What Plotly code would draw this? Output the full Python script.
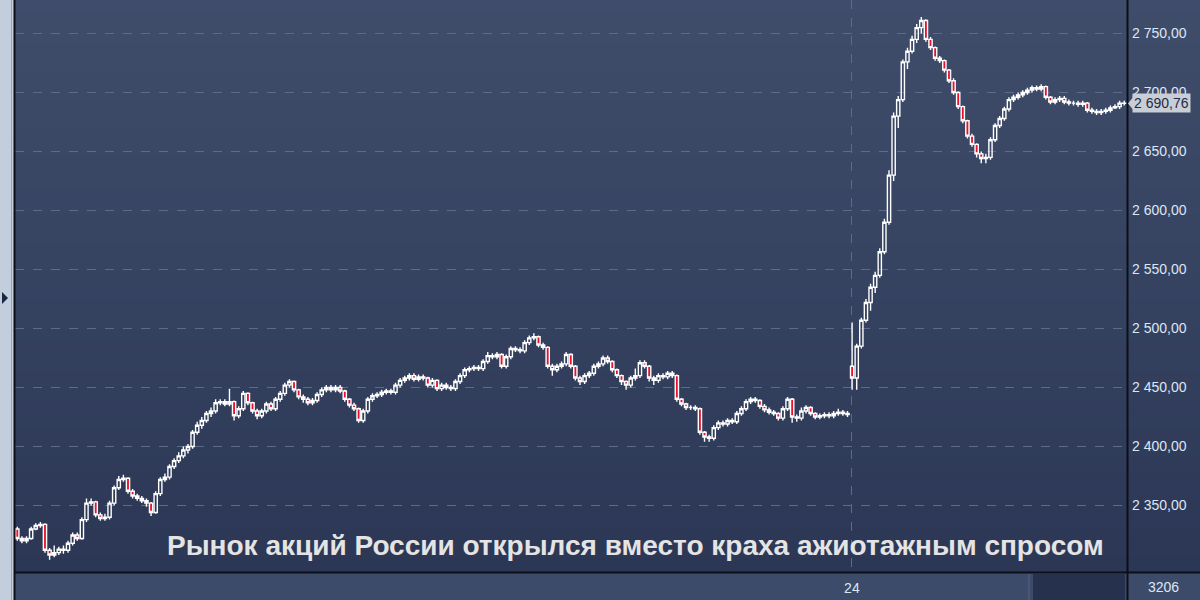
import plotly.graph_objects as go

# ---------------- data ----------------
first_open_23 = 2330
closes_23 = [2322, 2320, 2322, 2330, 2333, 2334, 2312, 2308, 2310, 2313,
             2312, 2318, 2325, 2322, 2338, 2352, 2353, 2342, 2339, 2340,
             2352, 2365, 2372, 2373, 2362, 2358, 2356, 2354, 2352, 2344,
             2360, 2372, 2374, 2383, 2388, 2392, 2397, 2400, 2412, 2418,
             2422, 2428, 2430, 2437, 2438, 2436, 2438, 2426, 2432, 2445,
             2437, 2430, 2426, 2430, 2436, 2432, 2440, 2445, 2452, 2455,
             2448, 2442, 2440, 2437, 2439, 2444, 2448, 2450, 2448, 2450,
             2447, 2440, 2435, 2432, 2422, 2430, 2440, 2443, 2444, 2446,
             2447, 2446, 2452, 2456, 2458, 2460, 2457, 2459, 2458, 2452,
             2456, 2449, 2452, 2450, 2449, 2455, 2460, 2465, 2466, 2467,
             2466, 2472, 2477, 2476, 2478, 2468, 2476, 2483, 2482, 2481,
             2488, 2492, 2493, 2486, 2484, 2468, 2465, 2468, 2470, 2478,
             2468, 2458, 2455, 2460, 2462, 2468, 2470, 2475, 2472, 2465,
             2460, 2455, 2452, 2458, 2460, 2471, 2468, 2458, 2456, 2460,
             2459, 2462, 2460, 2440, 2436, 2433, 2433, 2432, 2412, 2408,
             2407, 2416, 2420, 2419, 2422, 2421, 2428, 2432, 2438, 2440,
             2439, 2434, 2431, 2429, 2428, 2424, 2432, 2440, 2425, 2424,
             2430, 2433, 2428, 2425, 2426, 2427, 2426, 2428, 2429, 2428,
             2427]
highs_23 = [2332, 2324, 2324, 2332, 2335, 2336, 2335, 2314, 2316, 2315,
            2316, 2320, 2327, 2327, 2340, 2356, 2356, 2354, 2344, 2343,
            2354, 2367, 2375, 2376, 2374, 2364, 2360, 2358, 2356, 2353,
            2362, 2374, 2377, 2385, 2390, 2395, 2400, 2402, 2414, 2421,
            2425, 2430, 2433, 2440, 2440, 2440, 2449, 2439, 2434, 2447,
            2446, 2438, 2432, 2432, 2438, 2438, 2442, 2447, 2454, 2457,
            2456, 2449, 2444, 2442, 2441, 2446, 2450, 2452, 2452, 2452,
            2452, 2448, 2441, 2437, 2433, 2432, 2442, 2445, 2446, 2448,
            2449, 2449, 2454, 2458, 2460, 2462, 2462, 2461, 2461, 2459,
            2458, 2457, 2454, 2454, 2452, 2457, 2462, 2467, 2468, 2469,
            2469, 2474, 2480, 2479, 2480, 2479, 2478, 2485, 2485, 2484,
            2490, 2494, 2496, 2494, 2488, 2485, 2470, 2470, 2472, 2480,
            2479, 2469, 2460, 2462, 2464, 2470, 2472, 2477, 2477, 2473,
            2466, 2461, 2456, 2460, 2466, 2473, 2473, 2469, 2460, 2462,
            2462, 2464, 2464, 2461, 2441, 2437, 2435, 2435, 2433, 2413,
            2410, 2418, 2422, 2422, 2424, 2424, 2430, 2434, 2440, 2442,
            2442, 2440, 2436, 2433, 2431, 2429, 2434, 2442, 2441, 2427,
            2433, 2435, 2434, 2429, 2428, 2429, 2429, 2430, 2432, 2431,
            2430]
lows_23 = [2320, 2318, 2318, 2321, 2329, 2331, 2310, 2304, 2306, 2308,
           2309, 2310, 2316, 2320, 2321, 2336, 2350, 2340, 2337, 2337,
           2338, 2350, 2363, 2370, 2360, 2356, 2354, 2352, 2349, 2341,
           2343, 2358, 2370, 2372, 2381, 2386, 2390, 2394, 2398, 2410,
           2415, 2420, 2425, 2428, 2435, 2434, 2434, 2422, 2424, 2430,
           2435, 2428, 2423, 2424, 2428, 2430, 2430, 2438, 2443, 2450,
           2446, 2440, 2437, 2435, 2435, 2437, 2442, 2446, 2446, 2446,
           2445, 2438, 2433, 2430, 2420, 2420, 2428, 2438, 2441, 2442,
           2444, 2444, 2444, 2450, 2454, 2456, 2455, 2455, 2456, 2450,
           2450, 2447, 2447, 2448, 2447, 2447, 2453, 2458, 2463, 2464,
           2464, 2464, 2470, 2474, 2474, 2466, 2466, 2474, 2480, 2479,
           2479, 2486, 2490, 2484, 2482, 2466, 2460, 2463, 2466, 2468,
           2466, 2456, 2452, 2453, 2458, 2460, 2466, 2468, 2470, 2463,
           2458, 2452, 2448, 2450, 2456, 2458, 2466, 2455, 2452, 2454,
           2457, 2457, 2458, 2438, 2434, 2431, 2431, 2430, 2410, 2404,
           2404, 2405, 2414, 2417, 2417, 2419, 2419, 2426, 2430, 2436,
           2437, 2432, 2429, 2427, 2426, 2422, 2422, 2430, 2420, 2421,
           2422, 2428, 2426, 2423, 2423, 2424, 2424, 2424, 2426, 2426,
           2425]

first_open_24 = 2468
closes_24 = [2458, 2485, 2507, 2522, 2535, 2545, 2565, 2590, 2630, 2680,
             2694, 2726, 2735, 2745, 2755, 2761, 2745, 2738, 2729, 2727,
             2719, 2710, 2700, 2688, 2676, 2663, 2656, 2648, 2644, 2645,
             2660, 2672, 2678, 2686, 2694, 2696, 2698, 2700, 2702, 2704,
             2703, 2705, 2696, 2692, 2694, 2695, 2692, 2691, 2691, 2690,
             2691, 2685, 2684, 2683, 2684, 2685, 2687, 2688, 2691, 2690.76]
highs_24 = [2505, 2487, 2509, 2525, 2538, 2548, 2568, 2593, 2634, 2683,
            2697, 2728, 2738, 2748, 2758, 2764, 2762, 2747, 2739, 2731,
            2728, 2720, 2712, 2701, 2689, 2677, 2665, 2657, 2650, 2648,
            2662, 2674, 2680, 2688, 2696, 2698, 2700, 2702, 2704, 2706,
            2706, 2707, 2706, 2697, 2696, 2697, 2697, 2694, 2693, 2693,
            2693, 2692, 2687, 2686, 2686, 2687, 2689, 2690, 2693, 2693]
lows_24 = [2448, 2448, 2483, 2505, 2515, 2530, 2543, 2563, 2588, 2625,
           2670, 2692, 2720, 2733, 2742, 2750, 2743, 2736, 2727, 2725,
           2717, 2708, 2698, 2686, 2674, 2661, 2654, 2645, 2640, 2640,
           2643, 2658, 2670, 2676, 2684, 2692, 2694, 2696, 2698, 2700,
           2701, 2701, 2694, 2690, 2690, 2692, 2690, 2689, 2689, 2688,
           2688, 2683, 2682, 2681, 2681, 2682, 2683, 2686, 2686, 2689]

day_tick_labels = ["24"]
y_tick_values = [2350, 2400, 2450, 2500, 2550, 2600, 2650, 2700, 2750]
y_tick_labels = ["2 350,00", "2 400,00", "2 450,00", "2 500,00", "2 550,00",
                 "2 600,00", "2 650,00", "2 700,00", "2 750,00"]
last_price_label = "2 690,76"
volume_label = "3206"
title_text = "Рынок акций России открылся вместо краха ажиотажным спросом"

# ---------------- build table ----------------
closes = closes_23 + closes_24
highs = highs_23 + highs_24
lows = lows_23 + lows_24
opens = [first_open_23] + closes_23[:-1] + [first_open_24] + closes_24[:-1]
xs = list(range(len(closes)))
day24_start = len(closes_23)

# ---------------- figure ----------------
W, H = 1200, 600
L, R, T, B = 15, 73, 0, 28
pw, ph = W - L - R, H - T - B


def px(x):  # pixel x -> paper x
    return (x - L) / pw


def py(y):  # pixel y -> paper y
    return (H - B - y) / ph


fig = go.Figure()
fig.add_trace(go.Candlestick(
    x=xs, open=opens, high=highs, low=lows, close=closes,
    increasing=dict(line=dict(color="#ffffff", width=1.4), fillcolor="rgba(0,0,0,0)"),
    decreasing=dict(line=dict(color="#ffffff", width=1.4), fillcolor="#e8102c"),
    whiskerwidth=0, hoverinfo="skip", showlegend=False,
))

shapes = []
# background gradient
top = (63, 77, 107)
bot = (43, 55, 85)
n = 40
for i in range(n):
    t = i / (n - 1)
    c = tuple(int(round(bot[k] + (top[k] - bot[k]) * t)) for k in range(3))
    shapes.append(dict(type="rect", xref="paper", yref="paper", layer="below",
                       x0=px(15), x1=px(1200), y0=i / n, y1=(i + 1) / n + 0.002,
                       line=dict(width=0), fillcolor="rgb(%d,%d,%d)" % c))
# bottom strip
shapes.append(dict(type="rect", xref="paper", yref="paper", layer="below",
                   x0=px(15), x1=px(1200), y0=py(600), y1=py(573),
                   line=dict(width=0), fillcolor="#3d4b6a"))
shapes.append(dict(type="rect", xref="paper", yref="paper", layer="below",
                   x0=px(1033), x1=px(1125), y0=py(600), y1=py(574),
                   line=dict(width=0), fillcolor="#25314d"))
shapes.append(dict(type="line", xref="paper", yref="paper", layer="below",
                   x0=px(1029), x1=px(1029), y0=py(600), y1=py(574),
                   line=dict(width=1, color="#56647f")))
# left strip
shapes.append(dict(type="rect", xref="paper", yref="paper", layer="above",
                   x0=px(0), x1=px(14), y0=py(600), y1=py(0),
                   line=dict(width=0), fillcolor="#c3cedd"))
shapes.append(dict(type="line", xref="paper", yref="paper", layer="above",
                   x0=px(11.5), x1=px(11.5), y0=py(600), y1=py(0),
                   line=dict(width=1, color="#98a6bc")))
shapes.append(dict(type="line", xref="paper", yref="paper", layer="above",
                   x0=px(14.5), x1=px(14.5), y0=py(600), y1=py(0),
                   line=dict(width=2, color="#0c0f16")))
shapes.append(dict(type="path", xref="paper", yref="paper", layer="above",
                   path="M %f %f L %f %f L %f %f Z" % (px(2), py(292), px(8), py(298), px(2), py(304)),
                   line=dict(width=0), fillcolor="#1b2740"))
# frame lines
shapes.append(dict(type="line", xref="paper", yref="paper", layer="above",
                   x0=px(1127.5), x1=px(1127.5), y0=py(600), y1=py(0),
                   line=dict(width=2, color="#0c0f16")))
shapes.append(dict(type="line", xref="paper", yref="paper", layer="above",
                   x0=px(15), x1=px(1200), y0=py(572.5), y1=py(572.5),
                   line=dict(width=2, color="#0c0f16")))
# last price pointer
shapes.append(dict(type="path", xref="paper", yref="y", layer="above",
                   path="M %f 2690.76 L %f 2696 L %f 2685.5 Z" % (px(1128), px(1133), px(1133)),
                   line=dict(width=0), fillcolor="#c9ced6"))

annotations = [
    dict(text="<b>" + title_text + "</b>", xref="paper", yref="paper", x=px(1106), y=py(545),
         xanchor="right", yanchor="middle", showarrow=False,
         font=dict(family="Liberation Sans, Arial", size=28, color="#e4e4e4")),
    dict(text=last_price_label, xref="paper", yref="y", x=px(1132), y=2690.76,
         xanchor="left", yanchor="middle", showarrow=False, bgcolor="#c9ced6",
         borderpad=1, font=dict(family="Liberation Sans, Arial", size=14, color="#1c2a46")),
    dict(text=volume_label, xref="paper", yref="paper", x=px(1163), y=py(587),
         xanchor="center", yanchor="middle", showarrow=False,
         font=dict(family="Liberation Sans, Arial", size=14, color="#dce6f5")),
]

fig.update_layout(
    width=W, height=H, margin=dict(l=L, r=R, t=T, b=B),
    paper_bgcolor="#34425f", plot_bgcolor="rgba(0,0,0,0)",
    shapes=shapes, annotations=annotations, showlegend=False, boxgap=0.0,
    font=dict(family="Liberation Sans, Arial", size=14, color="#dce6f5"),
    xaxis=dict(range=[-0.5, len(closes) - 0.4], rangeslider=dict(visible=False),
               tickvals=[day24_start - 0.05], ticktext=day_tick_labels,
               showgrid=True, gridcolor="#5d6b88", griddash="dash", gridwidth=1,
               zeroline=False, showline=False, ticks="", ticklabelstandoff=6,
               tickfont=dict(size=14, color="#dce6f5")),
    yaxis=dict(side="right", range=[2293.6, 2778.4], tickvals=y_tick_values,
               ticktext=y_tick_labels, showgrid=True, gridcolor="#5d6b88",
               griddash="dash", gridwidth=1, zeroline=False, showline=False,
               ticks="", ticklabelstandoff=4, tickfont=dict(size=14, color="#dce6f5")),
)

fig.write_html("out.html", config={"displayModeBar": False},
               post_script="document.body.style.margin='0';document.body.style.padding='0';document.body.style.overflow='hidden';")
